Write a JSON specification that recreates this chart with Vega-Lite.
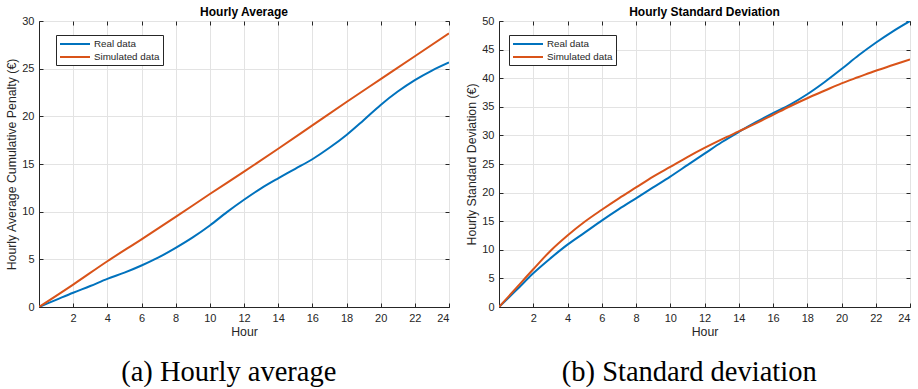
{
  "$schema": "https://vega.github.io/schema/vega-lite/v6.json",
  "padding": {"left": 5, "top": 5, "right": 6, "bottom": 0},
  "background": "white",
  "config": {
    "font": "Liberation Sans",
    "view": {"stroke": "#262626", "strokeWidth": 1},
    "axis": {
      "labelFont": "Liberation Sans", "labelFontSize": 11, "labelColor": "#262626",
      "titleFont": "Liberation Sans", "titleFontSize": 12.3, "titleFontWeight": "normal", "titleColor": "#262626",
      "gridColor": "#e3e3e3", "gridOpacity": 1, "gridWidth": 1,
      "domainColor": "#262626", "tickColor": "#262626", "tickSize": -4, "labelPadding": 9
    },
    "legend": {
      "orient": "none", "legendY": 14,
      "fillColor": "white", "strokeColor": "#262626", "padding": 3,
      "symbolType": "M-1,0H5", "symbolSize": 100, "symbolStrokeWidth": 2,
      "labelFont": "Liberation Sans", "labelFontSize": 9.8, "labelColor": "#262626",
      "labelOffset": 23, "rowPadding": 2, "symbolOffset": 0
    },
    "title": {"font": "Liberation Sans", "fontSize": 12, "fontWeight": "bold", "color": "black", "offset": -4}
  },
  "datasets": {
    "avg": [
      {"hour": 0, "series": "Real data", "value": 0},
      {"hour": 1, "series": "Real data", "value": 0.75},
      {"hour": 2, "series": "Real data", "value": 1.5},
      {"hour": 3, "series": "Real data", "value": 2.2},
      {"hour": 4, "series": "Real data", "value": 2.95},
      {"hour": 5, "series": "Real data", "value": 3.6},
      {"hour": 6, "series": "Real data", "value": 4.35},
      {"hour": 7, "series": "Real data", "value": 5.2},
      {"hour": 8, "series": "Real data", "value": 6.2},
      {"hour": 9, "series": "Real data", "value": 7.3},
      {"hour": 10, "series": "Real data", "value": 8.55},
      {"hour": 11, "series": "Real data", "value": 9.95},
      {"hour": 12, "series": "Real data", "value": 11.25},
      {"hour": 13, "series": "Real data", "value": 12.45},
      {"hour": 14, "series": "Real data", "value": 13.5},
      {"hour": 15, "series": "Real data", "value": 14.5},
      {"hour": 16, "series": "Real data", "value": 15.5},
      {"hour": 17, "series": "Real data", "value": 16.7},
      {"hour": 18, "series": "Real data", "value": 18.05},
      {"hour": 19, "series": "Real data", "value": 19.6},
      {"hour": 20, "series": "Real data", "value": 21.2},
      {"hour": 21, "series": "Real data", "value": 22.6},
      {"hour": 22, "series": "Real data", "value": 23.8},
      {"hour": 23, "series": "Real data", "value": 24.8},
      {"hour": 24, "series": "Real data", "value": 25.65},
      {"hour": 0, "series": "Simulated data", "value": 0},
      {"hour": 2, "series": "Simulated data", "value": 2.35},
      {"hour": 4, "series": "Simulated data", "value": 4.8},
      {"hour": 6, "series": "Simulated data", "value": 7.1},
      {"hour": 8, "series": "Simulated data", "value": 9.45},
      {"hour": 10, "series": "Simulated data", "value": 11.85},
      {"hour": 12, "series": "Simulated data", "value": 14.2},
      {"hour": 14, "series": "Simulated data", "value": 16.6},
      {"hour": 16, "series": "Simulated data", "value": 19.05},
      {"hour": 18, "series": "Simulated data", "value": 21.5},
      {"hour": 20, "series": "Simulated data", "value": 23.9},
      {"hour": 22, "series": "Simulated data", "value": 26.3},
      {"hour": 24, "series": "Simulated data", "value": 28.7}
    ],
    "std": [
      {"hour": 0, "series": "Real data", "value": 0},
      {"hour": 1, "series": "Real data", "value": 2.9},
      {"hour": 2, "series": "Real data", "value": 5.9},
      {"hour": 3, "series": "Real data", "value": 8.5},
      {"hour": 4, "series": "Real data", "value": 10.9},
      {"hour": 5, "series": "Real data", "value": 13.0},
      {"hour": 6, "series": "Real data", "value": 15.1},
      {"hour": 7, "series": "Real data", "value": 17.1},
      {"hour": 8, "series": "Real data", "value": 19.0},
      {"hour": 9, "series": "Real data", "value": 20.9},
      {"hour": 10, "series": "Real data", "value": 22.8},
      {"hour": 11, "series": "Real data", "value": 24.8},
      {"hour": 12, "series": "Real data", "value": 26.8},
      {"hour": 13, "series": "Real data", "value": 28.8},
      {"hour": 14, "series": "Real data", "value": 30.6},
      {"hour": 15, "series": "Real data", "value": 32.3},
      {"hour": 16, "series": "Real data", "value": 33.9},
      {"hour": 17, "series": "Real data", "value": 35.4},
      {"hour": 18, "series": "Real data", "value": 37.2},
      {"hour": 19, "series": "Real data", "value": 39.3},
      {"hour": 20, "series": "Real data", "value": 41.6},
      {"hour": 21, "series": "Real data", "value": 44.0},
      {"hour": 22, "series": "Real data", "value": 46.2},
      {"hour": 23, "series": "Real data", "value": 48.2},
      {"hour": 24, "series": "Real data", "value": 50.0},
      {"hour": 0, "series": "Simulated data", "value": 0},
      {"hour": 1, "series": "Simulated data", "value": 3.3},
      {"hour": 2, "series": "Simulated data", "value": 6.6},
      {"hour": 3, "series": "Simulated data", "value": 9.8},
      {"hour": 4, "series": "Simulated data", "value": 12.5},
      {"hour": 5, "series": "Simulated data", "value": 14.9},
      {"hour": 6, "series": "Simulated data", "value": 17.0},
      {"hour": 7, "series": "Simulated data", "value": 19.0},
      {"hour": 8, "series": "Simulated data", "value": 20.9},
      {"hour": 9, "series": "Simulated data", "value": 22.8},
      {"hour": 10, "series": "Simulated data", "value": 24.5},
      {"hour": 11, "series": "Simulated data", "value": 26.2},
      {"hour": 12, "series": "Simulated data", "value": 27.8},
      {"hour": 13, "series": "Simulated data", "value": 29.3},
      {"hour": 14, "series": "Simulated data", "value": 30.7},
      {"hour": 15, "series": "Simulated data", "value": 32.1},
      {"hour": 16, "series": "Simulated data", "value": 33.6},
      {"hour": 17, "series": "Simulated data", "value": 35.1},
      {"hour": 18, "series": "Simulated data", "value": 36.5},
      {"hour": 19, "series": "Simulated data", "value": 37.8},
      {"hour": 20, "series": "Simulated data", "value": 39.1},
      {"hour": 21, "series": "Simulated data", "value": 40.2},
      {"hour": 22, "series": "Simulated data", "value": 41.3},
      {"hour": 23, "series": "Simulated data", "value": 42.3},
      {"hour": 24, "series": "Simulated data", "value": 43.3}
    ]
  },
  "spacing": 12,
  "hconcat": [
    {
      "title": {"text": "(a) Hourly average", "orient": "bottom", "anchor": "middle", "font": "Liberation Serif", "fontSize": 28.5, "fontWeight": "normal", "color": "black", "offset": 20},
      "vconcat": [
        {
          "title": "Hourly Average",
          "width": 410, "height": 286,
          "data": {"name": "avg"},
          "layer": [
            {
              "mark": {"type": "line", "interpolate": "monotone", "strokeWidth": 2, "clip": true},
              "encoding": {
                "x": {"field": "hour", "type": "quantitative", "title": "Hour",
                      "scale": {"domain": [0, 24], "nice": false},
                      "axis": {"values": [2, 4, 6, 8, 10, 12, 14, 16, 18, 20, 22, 24], "titlePadding": 2}},
                "y": {"field": "value", "type": "quantitative", "title": "Hourly Average Cumulative Penalty (€)",
                      "scale": {"domain": [0, 30], "nice": false},
                      "axis": {"values": [0, 5, 10, 15, 20, 25, 30], "titlePadding": 3}},
                "color": {"field": "series", "type": "nominal", "title": null,
                          "scale": {"domain": ["Real data", "Simulated data"], "range": ["#0072BD", "#D95319"]},
                          "legend": {"legendX": 17}}
              }
            },
            {
              "mark": {"type": "point", "opacity": 0},
              "encoding": {
                "x": {"field": "hour", "type": "quantitative",
                      "axis": {"orient": "top", "values": [2, 4, 6, 8, 10, 12, 14, 16, 18, 20, 22, 24], "labels": false, "title": null, "grid": false, "domain": false}},
                "y": {"field": "value", "type": "quantitative",
                      "axis": {"orient": "right", "values": [0, 5, 10, 15, 20, 25, 30], "labels": false, "title": null, "grid": false, "domain": false}}
              }
            }
          ],
          "resolve": {"axis": {"x": "independent", "y": "independent"}}
        }
      ]
    },
    {
      "title": {"text": "(b) Standard deviation", "orient": "bottom", "anchor": "middle", "font": "Liberation Serif", "fontSize": 28.5, "fontWeight": "normal", "color": "black", "offset": 20},
      "vconcat": [
        {
          "title": "Hourly Standard Deviation",
          "width": 411, "height": 286,
          "data": {"name": "std"},
          "layer": [
            {
              "mark": {"type": "line", "interpolate": "monotone", "strokeWidth": 2, "clip": true},
              "encoding": {
                "x": {"field": "hour", "type": "quantitative", "title": "Hour",
                      "scale": {"domain": [0, 24], "nice": false},
                      "axis": {"values": [2, 4, 6, 8, 10, 12, 14, 16, 18, 20, 22, 24], "titlePadding": 2}},
                "y": {"field": "value", "type": "quantitative", "title": "Hourly Standard Deviation (€)",
                      "scale": {"domain": [0, 50], "nice": false},
                      "axis": {"values": [0, 5, 10, 15, 20, 25, 30, 35, 40, 45, 50], "titlePadding": 3}},
                "color": {"field": "series", "type": "nominal", "title": null,
                          "scale": {"domain": ["Real data", "Simulated data"], "range": ["#0072BD", "#D95319"]},
                          "legend": {"legendX": 10}}
              }
            },
            {
              "mark": {"type": "point", "opacity": 0},
              "encoding": {
                "x": {"field": "hour", "type": "quantitative",
                      "axis": {"orient": "top", "values": [2, 4, 6, 8, 10, 12, 14, 16, 18, 20, 22, 24], "labels": false, "title": null, "grid": false, "domain": false}},
                "y": {"field": "value", "type": "quantitative",
                      "axis": {"orient": "right", "values": [0, 5, 10, 15, 20, 25, 30, 35, 40, 45, 50], "labels": false, "title": null, "grid": false, "domain": false}}
              }
            }
          ],
          "resolve": {"axis": {"x": "independent", "y": "independent"}}
        }
      ]
    }
  ],
  "resolve": {"legend": {"color": "independent"}, "scale": {"color": "independent"}}
}
